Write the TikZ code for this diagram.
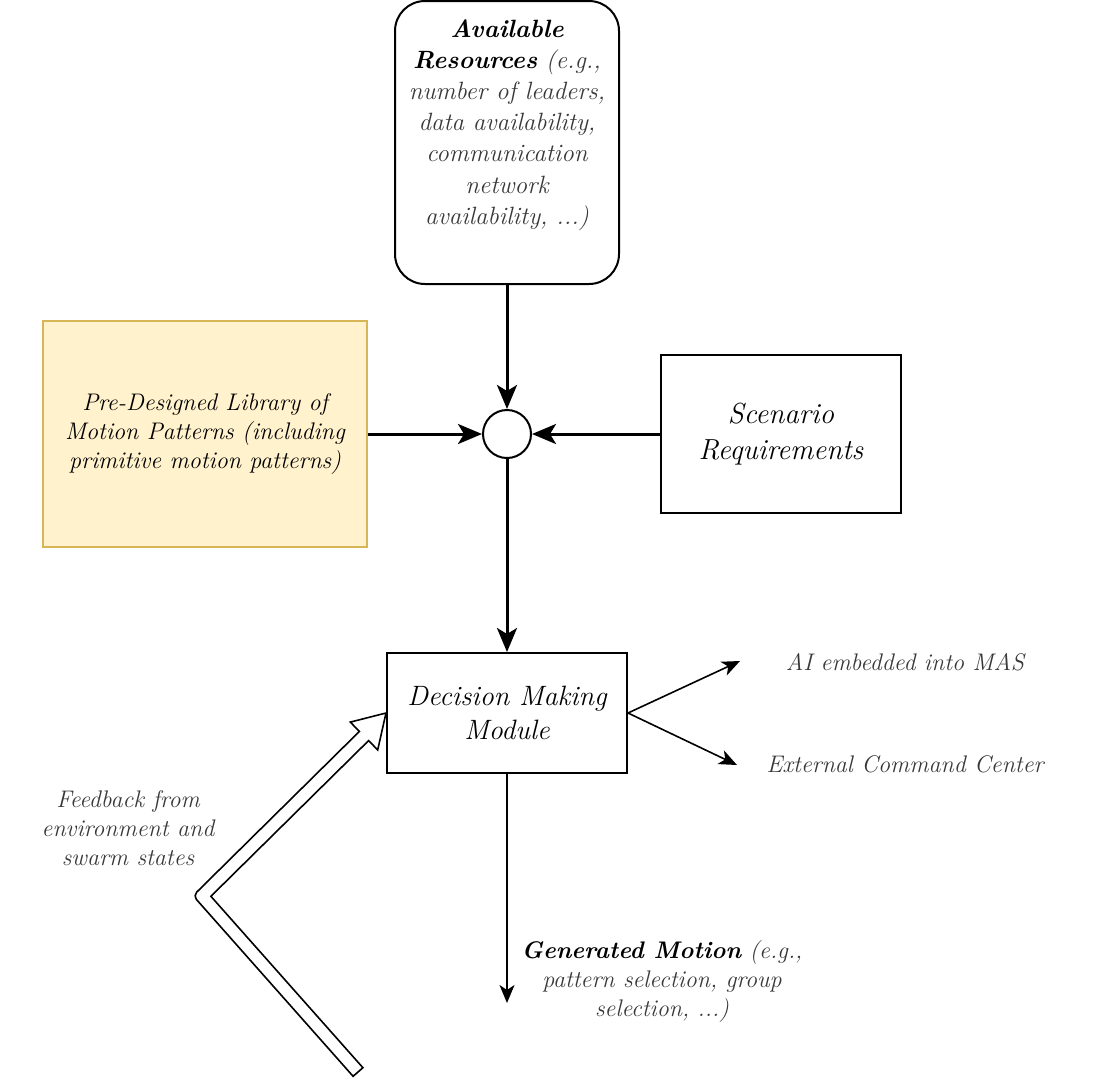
\documentclass[tikz,border=0pt]{standalone}
\usepackage{fontspec}
\usetikzlibrary{arrows.meta}
\definecolor{libfill}{HTML}{FFF2CC}
\definecolor{libdraw}{HTML}{D6B656}
\colorlet{soft}{black!78}
\begin{document}
\begin{tikzpicture}[x=0.5pt,y=-0.5pt,
  boxnode/.style={draw, line width=1pt, inner sep=0pt, align=center},
  smalltxt/.style={align=center, inner sep=0pt, font=\fontsize{12}{14.5}\selectfont\itshape, text=soft},
  fat/.style={line width=1.5pt, -{Stealth[length=12pt,width=10pt,inset=3pt]}},
  slim/.style={line width=0.8pt, -{Stealth[length=9pt,width=7.5pt,inset=2.5pt]}}]
\useasboundingbox (0,0) rectangle (1094,1078);

% boxes
\node[boxnode, rounded corners=15pt, minimum width=112pt, minimum height=141.5pt] (ar) at (507,142.5) {};
\node[align=center, inner sep=0pt, font=\fontsize{12.5}{15.6}\selectfont\itshape, text=soft] (artext) at (507,125)
  {{\color{black}\bfseries Available}\\ {\color{black}\bfseries Resources} (e.g.,\\ number of leaders,\\ data availability,\\ communication\\ network\\ availability, ...)};

\node[boxnode, circle, minimum size=24pt] (sum) at (507,434) {};

\node[boxnode, draw=libdraw, fill=libfill, minimum width=162pt, minimum height=113pt,
      font=\fontsize{12}{14.5}\selectfont\itshape] (lib) at (205,434)
  {Pre-Designed Library of\\ Motion Patterns (including\\ primitive motion patterns)};

\node[boxnode, minimum width=120pt, minimum height=79pt, font=\fontsize{14.5}{18}\selectfont\itshape] (scen) at (781,434)
  {Scenario\\ Requirements};

\node[boxnode, minimum width=120pt, minimum height=60pt, font=\fontsize{14}{17}\selectfont\itshape] (dmm) at (507,713)
  {Decision Making\\ Module};

% labels
\node[smalltxt] (ai) at (905,662) {AI embedded into MAS};
\node[smalltxt] (ext) at (905,764) {External Command Center};
\node[smalltxt] (gen) at (662,981) {{\color{black}\bfseries Generated Motion} (e.g.,\\ pattern selection, group\\ selection, ...)};
\node[smalltxt] (fb) at (128,828) {Feedback from\\ environment and\\ swarm states};

\coordinate (aiend) at (740,661);
\coordinate (extend) at (737,765);
\coordinate (genend) at (507,1003);

% connectors
\draw[fat] (ar.south) -- (sum.north);
\draw[fat] (lib.east) -- (sum.west);
\draw[fat] (scen.west) -- (sum.east);
\draw[fat] (sum.south) -- (dmm.north);
\draw[slim] (dmm.east) -- (aiend);
\draw[slim] (dmm.east) -- (extend);
\draw[slim] (dmm.south) -- (genend);

% feedback hollow arrow
\draw[line width=0.8pt, fill=white, line join=miter]
  (353.1,1076.3) [rounded corners=2.5pt] -- (193.1,895.7) [sharp corners] -- (359.4,731.4)
  -- (350.3,722.1) -- (dmm.west) -- (377.7,749.9) -- (368.6,740.6) -- (210.9,896.3)
  -- (362.9,1067.7) -- cycle;
\end{tikzpicture}
\end{document}
